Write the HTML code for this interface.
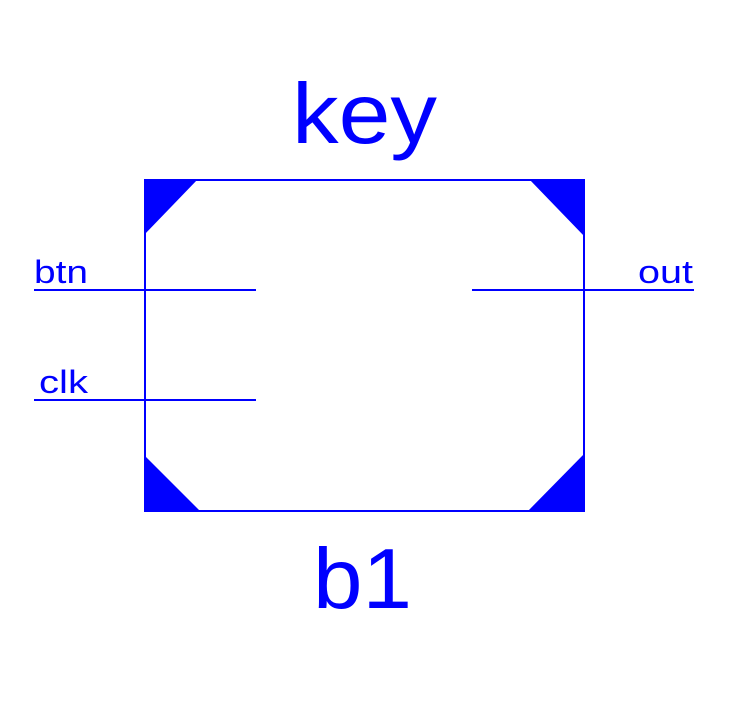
<!DOCTYPE html>
<html><head><meta charset="utf-8"><style>html,body{margin:0;padding:0;background:#fff}</style></head>
<body>
<svg width="733" height="706" viewBox="0 0 733 706" xmlns="http://www.w3.org/2000/svg" font-family="Liberation Sans, sans-serif" fill="#0000ff">
<text x="292" y="143" font-size="85" textLength="145" lengthAdjust="spacingAndGlyphs">key</text>
<rect x="145" y="180" width="439" height="331" fill="none" stroke="#0000ff" stroke-width="2"/>
<polygon points="144,179 198,179 144,235"/>
<polygon points="529,179 585,179 585,237"/>
<polygon points="144,455 144,512 201,512"/>
<polygon points="527,512 585,512 585,453"/>
<line x1="34" y1="290" x2="256" y2="290" stroke="#0000ff" stroke-width="2"/>
<line x1="34" y1="400" x2="256" y2="400" stroke="#0000ff" stroke-width="2"/>
<line x1="472" y1="290" x2="694" y2="290" stroke="#0000ff" stroke-width="2"/>
<text x="34" y="283" font-size="32" textLength="54" lengthAdjust="spacingAndGlyphs">btn</text>
<text x="39" y="393" font-size="32" textLength="49" lengthAdjust="spacingAndGlyphs">clk</text>
<text x="638" y="283" font-size="32" textLength="55" lengthAdjust="spacingAndGlyphs">out</text>
<text x="313" y="608" font-size="85" textLength="99" lengthAdjust="spacingAndGlyphs">b1</text>
</svg>
</body></html>
